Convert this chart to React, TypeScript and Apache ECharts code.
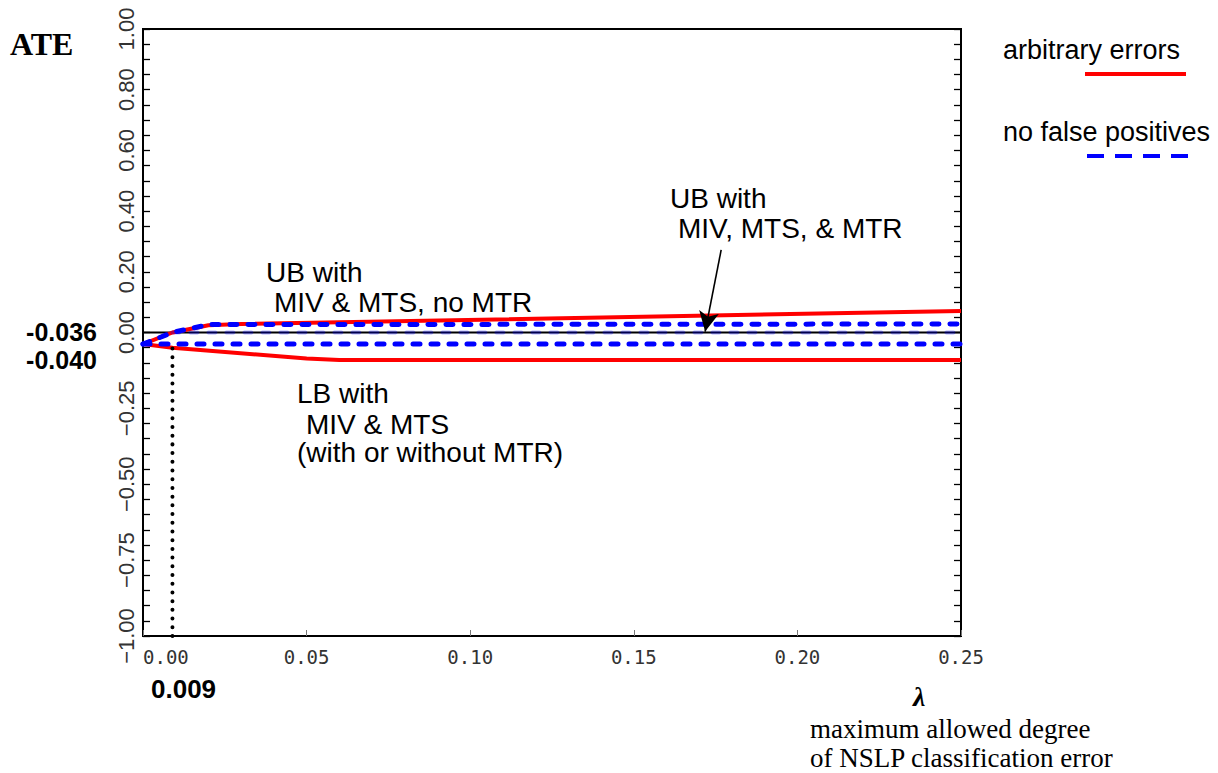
import React, { useEffect, useRef } from "react";
import * as echarts from "echarts";

// ---- data ----
const xMin = 0;
const xMax = 0.25;
const xStep = 0.05;
const yMin = -1;
const yMax = 1;
const yStep = 0.05;
const yLabelValues = [1, 0.8, 0.6, 0.4, 0.2, 0, -0.25, -0.5, -0.75, -1];

const zeroLineX = [0, 0.25];
const zeroLineY = [0, 0];
// arbitrary errors (red)
const ubArbX = [0, 0.009, 0.02, 0.03, 0.25];
const ubArbY = [-0.038, 0, 0.024, 0.028, 0.071];
const lbArbX = [0, 0.009, 0.05, 0.06, 0.25];
const lbArbY = [-0.038, -0.05, -0.086, -0.091, -0.091];
// no false positives (blue dashed)
const ubNfpX = [0, 0.009, 0.02, 0.25];
const ubNfpY = [-0.038, 0, 0.026, 0.028];
const lbNfpX = [0, 0.25];
const lbNfpY = [-0.038, -0.038];
const midNfpX = [0.009, 0.25];
const midNfpY = [0, 0];
// lambda* marker
const lambdaStarX = [0.009, 0.009];
const lambdaStarY = [-1, -0.025];
// arrow for "UB with MIV, MTS, & MTR"
const arrowFrom = [0.1767, 0.272];
const arrowTo = [0.1718, 0.003];

const zip = (xs: number[], ys: number[]) => xs.map((x, i) => [x, ys[i]]);

const SANS = "'Liberation Sans', Arial, sans-serif";
const SERIF = "'Liberation Serif', 'Times New Roman', serif";

export default function App() {
  const ref = useRef<HTMLDivElement>(null);
  useEffect(() => {
    if (!ref.current) return;
    const chart = echarts.init(ref.current, undefined, { renderer: "svg" });

    const lineSeries = (name: string, data: number[][], lineStyle: any, z = 2, extra: any = {}) => ({
      type: "line",
      name,
      data,
      showSymbol: false,
      symbol: "none",
      silent: true,
      animation: false,
      lineStyle,
      z,
      ...extra,
    });

    const txt = (text: string, x: number, y: number, font: string, align = "left") => ({
      type: "text",
      x,
      y,
      silent: true,
      style: { text, font, fill: "#000", textAlign: align, textVerticalAlign: "middle" },
    });

    const yFormatter = (v: number) => {
      const r = Math.round(v * 100);
      if (!yLabelValues.some((a) => Math.round(a * 100) === r)) return "";
      return r < 0 ? "\u2212" + Math.abs(r / 100).toFixed(2) : (r / 100).toFixed(2);
    };

    const yAxisBase = {
      type: "value",
      min: yMin,
      max: yMax,
      interval: yStep,
      splitLine: { show: false },
      axisLine: { show: true, onZero: false, lineStyle: { color: "#000", width: 2 } },
      axisTick: { show: true, inside: true, length: 7, lineStyle: { color: "#000", width: 1.3 } },
    };

    chart.setOption({
      animation: false,
      grid: {
        left: 143,
        right: 257,
        top: 29,
        bottom: 137,
        show: true,
        borderColor: "#000",
        borderWidth: 2,
        containLabel: false,
      },
      xAxis: {
        type: "value",
        min: xMin,
        max: xMax,
        interval: xStep,
        splitLine: { show: false },
        axisLine: { show: true, onZero: false, lineStyle: { color: "#000", width: 2 } },
        axisTick: { show: true, inside: true, length: 6, lineStyle: { color: "#777", width: 1 } },
        axisLabel: {
          show: true,
          margin: 11,
          color: "#333",
          fontSize: 19,
          fontFamily: "'DejaVu Sans Mono', monospace",
          alignMinLabel: "left",
          formatter: (v: number) => v.toFixed(2),
        },
      },
      yAxis: [
        {
          ...yAxisBase,
          position: "left",
          axisLabel: {
            show: true,
            interval: 0,
            hideOverlap: false,
            rotate: 90,
            margin: 6,
            color: "#333",
            fontSize: 22,
            fontFamily: "'Liberation Sans Narrow', 'Liberation Sans', sans-serif",
            formatter: yFormatter,
          },
        },
        {
          ...yAxisBase,
          position: "right",
          axisLabel: { show: false },
        },
      ],
      series: [
        lineSeries("zero", zip(zeroLineX, zeroLineY), { color: "#000", width: 2 }, 1, {
          markLine: {
            silent: true,
            animation: false,
            symbol: ["none", "arrow"],
            symbolSize: [15, 20],
            label: { show: false },
            lineStyle: { color: "#000", width: 1.6, type: "solid" },
            data: [[{ coord: arrowFrom }, { coord: arrowTo }]],
          },
        }),
        lineSeries("ub-arb", zip(ubArbX, ubArbY), { color: "#ff0000", width: 4 }, 2),
        lineSeries("lb-arb", zip(lbArbX, lbArbY), { color: "#ff0000", width: 4 }, 2),
        lineSeries("mid-nfp", zip(midNfpX, midNfpY), { color: "#0000ff", width: 4, type: [7, 11], cap: "round", opacity: 0.3 }, 3),
        lineSeries("ub-nfp", zip(ubNfpX, ubNfpY), { color: "#0000ff", width: 5, type: [7, 11], cap: "round" }, 3),
        lineSeries("lb-nfp", zip(lbNfpX, lbNfpY), { color: "#0000ff", width: 5, type: [7, 11], cap: "round" }, 3),
        lineSeries("lambda-star", zip(lambdaStarX, lambdaStarY), { color: "#000", width: 4, type: [0.01, 8.7], cap: "round" }, 4),
      ],
      graphic: [
        txt("ATE", 10, 44, `bold 32px ${SERIF}`),
        txt("-0.036", 97, 332, `bold 25px ${SANS}`, "right"),
        txt("-0.040", 97, 360, `bold 25px ${SANS}`, "right"),
        txt("0.009", 151, 689, `bold 26px ${SANS}`),
        txt("UB with", 266, 272, `28px ${SANS}`),
        txt("MIV & MTS, no MTR", 274, 302, `28px ${SANS}`),
        txt("UB with", 670, 198, `28px ${SANS}`),
        txt("MIV, MTS, & MTR", 678, 228, `28px ${SANS}`),
        txt("LB with", 297, 393, `28px ${SANS}`),
        txt("MIV & MTS", 306, 424, `28px ${SANS}`),
        txt("(with or without MTR)", 297, 452, `28px ${SANS}`),
        txt("arbitrary errors", 1003, 50, `27px ${SANS}`),
        txt("no false positives", 1003, 132, `27px ${SANS}`),
        txt("\u03BB", 913, 696, `bold italic 28px ${SERIF}`),
        txt("maximum allowed degree", 810, 729, `27px ${SERIF}`),
        txt("of NSLP classification error", 810, 758, `27px ${SERIF}`),
        {
          type: "line",
          silent: true,
          shape: { x1: 1085, y1: 74, x2: 1186, y2: 74 },
          style: { stroke: "#ff0000", lineWidth: 4 },
        },
        {
          type: "line",
          silent: true,
          shape: { x1: 1087, y1: 156, x2: 1189, y2: 156 },
          style: { stroke: "#0000ff", lineWidth: 4, lineDash: [17, 11] },
        },
      ],
    });
    return () => chart.dispose();
  }, []);
  return (
    <div
      ref={ref}
      style={{ position: "absolute", left: 0, top: 0, width: 1218, height: 773, background: "#fff" }}
    />
  );
}
